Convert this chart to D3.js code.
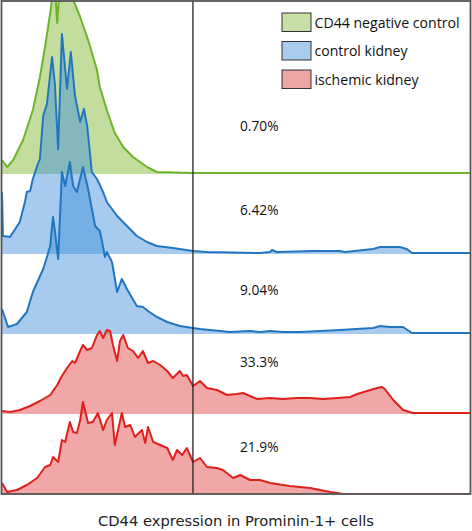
<!DOCTYPE html>
<html><head><meta charset="utf-8">
<script src="https://cdn.jsdelivr.net/npm/d3@7"></script>
<style>body{margin:0;background:#fff}svg{display:block}</style>
</head><body><svg id="c" width="472" height="531"></svg>
<script>
// ---- data (channel 0-1000, count) ----
const categories = ["CD44 negative control", "control kidney", "ischemic kidney"];
const panelGroups = [0, 1, 1, 2, 2];
const percentLabels = ["0.70%", "6.42%", "9.04%", "33.3%", "21.9%"];
const gateChannel = 408;

const negControl = [[0,14],[11,7],[24,14],[45,34],[66,64],[81,97],[92,127],[103,161],[109,182],[113,188],[118,151],[122,180],[128,190],[139,194],[150,186],[154,172],[167,157],[184,134],[203,104],[209,87],[224,64],[241,41],[259,27],[280,17],[310,7],[331,2],[408,1],[1000,1]];
const controlKidneyA = [[0,62],[2,18],[17,17],[38,32],[49,52],[53,62],[60,63],[66,75],[75,88],[81,95],[88,138],[96,150],[107,197],[113,170],[120,105],[128,220],[139,165],[147,202],[156,158],[167,132],[175,145],[182,128],[192,82],[203,75],[216,62],[224,52],[246,38],[267,28],[288,18],[310,12],[331,8],[365,6],[408,3],[438,2],[551,1],[573,2],[577,4],[587,2],[665,3],[722,3],[733,2],[793,5],[808,7],[850,7],[865,5],[876,1],[1000,1]];
const controlKidneyB = [[0,25],[13,7],[32,10],[53,22],[66,42],[88,65],[96,77],[103,88],[107,108],[109,117],[113,103],[120,75],[128,162],[135,148],[145,172],[152,148],[160,142],[173,167],[184,145],[192,125],[199,108],[209,103],[214,92],[220,77],[224,82],[235,72],[246,42],[256,55],[267,45],[288,28],[301,27],[312,23],[331,17],[353,12],[380,8],[408,6],[423,5],[487,2],[530,3],[551,2],[573,3],[600,2],[637,2],[722,4],[793,6],[808,8],[829,7],[857,7],[876,1],[1000,1]];
const ischemicKidneyA = [[0,3],[17,2],[38,4],[60,8],[81,13],[103,19],[118,29],[128,38],[139,46],[150,53],[156,51],[167,63],[173,69],[182,64],[192,66],[203,79],[209,83],[216,76],[224,84],[231,83],[237,69],[246,53],[252,73],[259,79],[269,66],[280,63],[291,56],[301,63],[312,51],[323,53],[338,49],[353,43],[365,36],[380,43],[387,38],[395,39],[408,28],[423,33],[438,26],[459,24],[481,19],[502,20],[515,21],[545,15],[573,16],[600,15],[630,16],[658,16],[686,15],[716,16],[744,17],[759,20],[780,23],[801,26],[812,27],[818,25],[836,14],[857,4],[878,1],[1000,1]];
const ischemicKidneyB = [[0,11],[11,2],[32,4],[53,9],[75,16],[92,27],[103,29],[109,37],[120,32],[128,54],[135,52],[145,72],[152,62],[160,61],[167,74],[173,92],[184,71],[194,72],[205,81],[216,64],[224,74],[235,81],[241,49],[248,64],[256,81],[263,67],[274,69],[284,57],[299,64],[306,51],[312,67],[323,52],[338,49],[353,46],[365,34],[374,44],[385,39],[395,46],[408,32],[423,36],[438,27],[459,26],[472,24],[494,16],[509,19],[530,14],[551,14],[573,11],[615,8],[658,6],[701,2],[729,0],[1000,0]];
const series = [negControl, controlKidneyA, controlKidneyB, ischemicKidneyA, ischemicKidneyB];

// ---- styles ----
const lineColors = ["#6cb42c", "#2276c0", "#e0201b"];
const fillColors = ["rgb(120,180,40)", "rgb(60,140,220)", "rgb(225,60,60)"];
const legendColors = ["#c6e0a6", "#a9cbee", "#f0a5a5"];
const legendWidths = [145, 93, 104];
const fillOpacity = 0.45;

const svg = d3.select("#c");
const L = 2, R = 470, T = 1, B = 494;

const x = d3.scaleLinear().domain([0, 1000]).range([L, R]);
const h = d3.scaleLinear().domain([0, 100]).range([0, 100]);
const base = d3.scalePoint().domain(d3.range(5)).range([174, 494]);

svg.append("defs").append("clipPath").attr("id", "clip")
  .append("rect").attr("x", L).attr("y", T).attr("width", R - L).attr("height", B - T);

const g = svg.append("g").attr("clip-path", "url(#clip)");

series.forEach((d, i) => {
  const b = base(i);
  const grp = panelGroups[i];
  const area = d3.area().x(p => x(p[0])).y0(b).y1(p => b - h(p[1])).curve(d3.curveLinear);
  const line = d3.line().x(p => x(p[0])).y(p => b - h(p[1])).curve(d3.curveLinear);
  g.append("path").datum(d).attr("d", area)
    .attr("fill", fillColors[grp]).attr("fill-opacity", fillOpacity);
  g.append("path").datum(d).attr("d", line)
    .attr("fill", "none").attr("stroke", lineColors[grp]).attr("stroke-width", 2)
    .attr("stroke-linejoin", "round");
});

// gate line
svg.append("line").attr("x1", x(gateChannel)).attr("x2", x(gateChannel))
  .attr("y1", T).attr("y2", B).attr("stroke", "#222").attr("stroke-width", 1.3);

// frame
svg.append("rect").attr("x", L - 0.5).attr("y", T).attr("width", R - L + 1).attr("height", B - T)
  .attr("fill", "none").attr("stroke", "#555").attr("stroke-width", 1.8);

// percent labels
const labelY = [131, 215, 295, 367, 452];
percentLabels.forEach((t, i) => {
  svg.append("text").attr("x", 240).attr("y", labelY[i])
    .attr("font-family", "Open Sans, sans-serif").attr("font-size", 14.5)
    .attr("textLength", 38.5).attr("lengthAdjust", "spacingAndGlyphs")
    .attr("fill", "#111").text(t);
});

// legend
const leg = svg.append("g");
categories.forEach((c, i) => {
  const y0 = 13 + i * 28.5;
  leg.append("rect").attr("x", 282).attr("y", y0).attr("width", 29).attr("height", 18.5)
    .attr("fill", legendColors[i]).attr("stroke", "#333").attr("stroke-width", 1);
  leg.append("text").attr("x", 314.5).attr("y", y0 + 14.5)
    .attr("font-family", "Open Sans, sans-serif").attr("font-size", 14.5)
    .attr("textLength", legendWidths[i]).attr("lengthAdjust", "spacingAndGlyphs")
    .attr("fill", "#111").text(c);
});

// x-axis title
svg.append("text").attr("x", 236).attr("y", 526).attr("text-anchor", "middle")
  .attr("font-family", "DejaVu Sans, sans-serif").attr("font-size", 14.5)
  .attr("textLength", 276).attr("lengthAdjust", "spacingAndGlyphs")
  .attr("fill", "#222").text("CD44 expression in Prominin-1+ cells");
</script></body></html>
